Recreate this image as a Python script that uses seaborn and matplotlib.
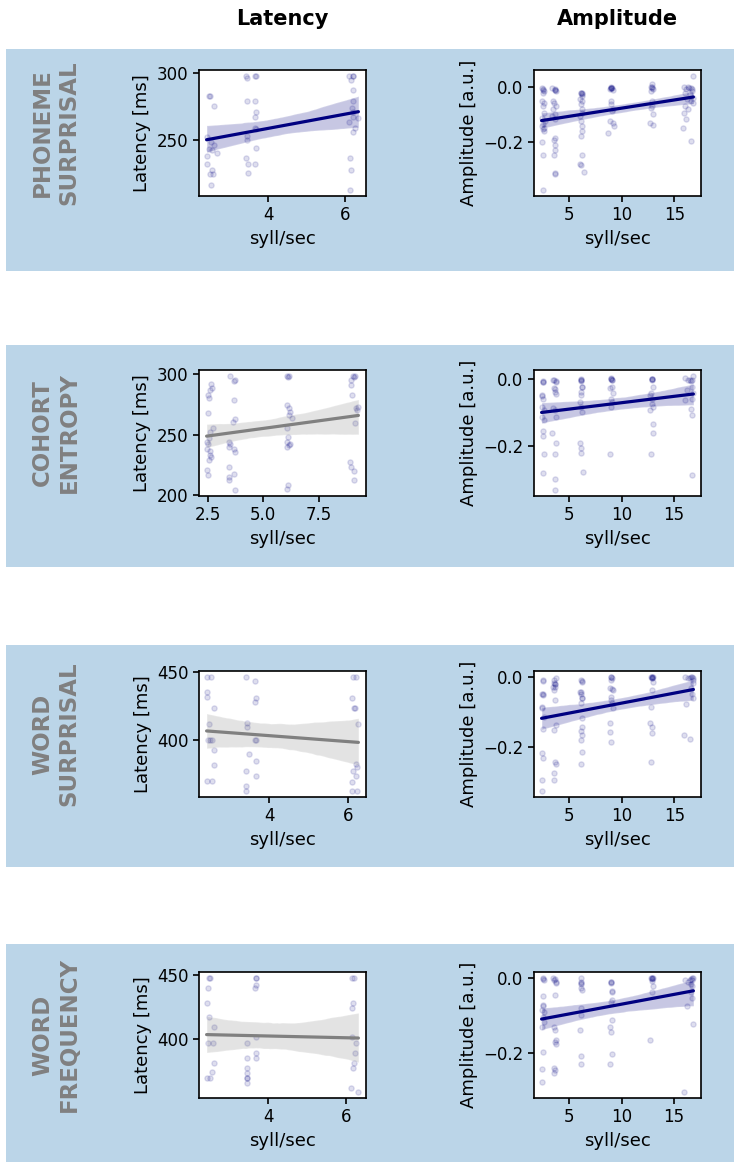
import matplotlib
matplotlib.use("Agg")
import matplotlib.pyplot as plt
from matplotlib.patches import Rectangle
from matplotlib.ticker import MaxNLocator
import seaborn as sns

# ---- data (x = syll/sec, y = latency / amplitude) ----
row_names = ["PHONEME\nSURPRISAL", "COHORT\nENTROPY", "WORD\nSURPRISAL", "WORD\nFREQUENCY"]
col_names = ["Latency", "Amplitude"]

# line colour per panel: navy = significant, gray = not
lat_line = ["navy", "gray", "gray", "gray"]
amp_line = ["navy", "navy", "navy", "navy"]

ph_lat_x = [2.45, 2.48, 2.58, 2.42, 2.52, 2.60, 2.45, 2.55, 2.68, 2.42, 2.40, 2.55, 2.50, 2.57, 2.52,
            3.42, 3.44, 3.65, 3.68, 3.45, 3.65, 3.68, 3.65, 3.66, 3.68, 3.45, 3.45, 3.68, 3.42, 3.48, 3.65, 3.48,
            6.10, 6.20, 6.22, 6.15, 6.20, 6.20, 6.18, 6.22, 6.20, 6.35, 6.10, 6.25, 6.22, 6.12, 6.15, 6.12]
ph_lat_y = [283, 283, 275, 252, 248, 246, 243, 242, 240, 238, 232, 227, 224, 224, 216,
            298, 296, 298, 298, 279, 279, 271, 267, 259, 258, 253, 250, 244, 236, 232, 232, 225,
            298, 298, 298, 295, 287, 279, 274, 271, 267, 266, 263, 259, 256, 236, 227, 212]

ph_amp_x = [2.4, 2.5, 2.35, 2.6, 2.45, 2.55, 2.4, 2.65, 2.5, 2.35, 2.6, 2.45, 2.55, 2.4, 2.5, 2.45, 2.45, 2.5, 2.55,
            3.35, 3.6, 3.4, 3.55, 3.7, 3.45, 3.6, 3.35, 3.65, 3.6, 3.55, 3.65, 3.6, 3.5, 3.6, 3.65, 3.6, 3.65, 3.7,
            6.1, 6.15, 6.05, 6.2, 6.1, 6.15, 6.2, 6.05, 6.1, 6.15, 6.2, 6.1, 6.15, 6.05, 6.1, 6.35, 6.1, 6.15, 6.2,
            8.95, 9.0, 9.05, 8.9, 9.1, 9.0, 8.95, 9.15, 9.05, 8.9, 9.1, 9.2, 8.7, 9.0, 8.95,
            12.9, 12.8, 12.95, 12.75, 12.85, 12.9, 12.8, 12.95, 12.7, 13.0, 12.9, 12.85,
            16.75, 15.9, 16.3, 16.6, 16.1, 16.7, 16.0, 16.5, 16.8, 16.2, 16.6, 16.75, 16.0, 16.3, 15.9, 16.1, 15.8, 16.6, 16.4, 16.7]
ph_amp_y = [-0.002, -0.019, -0.049, -0.056, -0.068, -0.093, -0.111, -0.123, -0.133, -0.142, -0.148, -0.154, -0.160, -0.200, -0.247, -0.377, -0.004, -0.008, -0.012,
            -0.002, -0.010, -0.049, -0.056, -0.068, -0.080, -0.099, -0.105, -0.117, -0.185, -0.191, -0.210, -0.228, -0.247, -0.315, -0.318, -0.004, -0.008, -0.012,
            -0.019, -0.022, -0.043, -0.049, -0.062, -0.080, -0.093, -0.105, -0.123, -0.142, -0.160, -0.179, -0.247, -0.281, -0.284, -0.309, -0.020, -0.025, -0.030,
            0.0, -0.001, -0.002, -0.006, -0.010, -0.049, -0.062, -0.080, -0.086, -0.123, -0.130, -0.142, -0.167, -0.001, -0.003,
            0.012, 0.0, -0.006, -0.012, -0.049, -0.068, -0.074, -0.099, -0.130, -0.136, 0.0, -0.002,
            0.043, 0.0, 0.0, -0.002, -0.006, -0.012, -0.019, -0.025, -0.037, -0.043, -0.049, -0.056, -0.068, -0.080, -0.093, -0.117, -0.148, -0.198, -0.002, -0.004]

ce_lat_x = [2.65, 2.68, 2.62, 2.52, 2.58, 2.5, 2.75, 2.6, 2.55, 2.48, 2.52, 2.45, 2.6, 2.62, 2.65, 2.58, 2.45, 2.5,
            3.5, 3.72, 3.68, 3.7, 3.72, 3.65, 3.45, 3.5, 3.45, 3.7, 3.72, 3.45, 3.7, 3.45, 3.48, 3.72,
            6.1, 6.15, 6.12, 6.1, 6.15, 6.2, 6.18, 6.3, 6.1, 6.12, 6.08, 6.2, 6.15, 6.1, 6.12, 6.1,
            9.05, 9.15, 9.1, 8.95, 8.95, 9.0, 9.3, 9.2, 9.25, 9.15, 8.9, 8.95, 9.1, 9.12]
ce_lat_y = [291.7, 288.9, 287, 282.8, 280, 267.5, 255.6, 251.7, 246.7, 243.9, 241.7, 238.3, 236.1, 232.8, 231.4, 228.6, 220.3, 216.1,
            298.9, 295.3, 294.4, 278.6, 263.3, 260, 243.9, 242.5, 239.7, 238.3, 235.6, 223.1, 217.5, 214.7, 211.9, 203.6,
            298.9, 298.9, 298.1, 274.4, 271.7, 268.9, 266.1, 263.9, 255, 248.1, 243.9, 242.5, 241.1, 239.7, 207.8, 204.4,
            298.9, 298.9, 298.1, 295.3, 291.1, 282.8, 273.1, 271.7, 270.3, 259.2, 227.2, 223.1, 219.4, 211.9]

ce_amp_x = [2.45, 2.4, 2.5, 2.35, 2.55, 2.4, 2.6, 2.45, 2.5, 2.55, 2.5, 2.45, 2.5, 2.4,
            3.45, 3.75, 3.55, 3.65, 3.7, 3.4, 3.6, 3.75, 3.35, 3.7, 3.65, 3.6, 3.6, 3.5, 3.7, 3.65,
            6.1, 6.15, 6.2, 6.1, 6.15, 6.05, 6.1, 6.2, 6.05, 6.1, 6.15, 6.35, 6.1, 6.15, 6.2,
            8.95, 9.0, 9.1, 9.05, 8.9, 9.15, 9.0, 9.1, 8.95, 8.9, 9.0, 9.05,
            12.85, 12.9, 12.95, 12.8, 12.75, 12.9, 12.85, 12.95, 12.7, 13.0, 12.95, 12.8, 12.9, 12.85,
            16.85, 16.0, 16.3, 16.6, 16.75, 16.2, 16.8, 16.7, 16.05, 16.6, 16.75, 16.75, 16.5, 16.7]
ce_amp_y = [-0.008, -0.048, -0.059, -0.084, -0.094, -0.114, -0.124, -0.155, -0.170, -0.225, -0.281, -0.005, -0.010, -0.050,
            -0.003, -0.006, -0.028, -0.038, -0.046, -0.087, -0.094, -0.114, -0.162, -0.190, -0.225, -0.299, -0.333, -0.004, -0.008, -0.030,
            0.0, -0.003, -0.023, -0.038, -0.048, -0.069, -0.084, -0.099, -0.190, -0.205, -0.220, -0.279, -0.002, -0.005, -0.025,
            0.002, 0.0, -0.003, -0.023, -0.028, -0.043, -0.059, -0.069, -0.084, -0.225, 0.0, -0.002,
            0.0, 0.0, -0.023, -0.043, -0.048, -0.059, -0.074, -0.084, -0.094, -0.134, -0.162, -0.225, 0.0, -0.002,
            0.010, 0.002, -0.003, -0.006, -0.023, -0.033, -0.043, -0.059, -0.064, -0.089, -0.107, -0.286, -0.002, -0.004]

ws_lat_x = [2.42, 2.52, 2.42, 2.42, 2.6, 2.48, 2.45, 2.5, 2.55, 2.6, 2.6, 2.42, 2.56,
            3.42, 3.65, 3.66, 3.64, 3.45, 3.45, 3.65, 3.67, 3.48, 3.66, 3.42, 3.67, 3.42, 3.42,
            6.12, 6.2, 6.08, 6.15, 6.17, 6.25, 6.18, 6.22, 6.12, 6.2, 6.1, 6.1, 6.22]
ws_lat_y = [446.8, 446.8, 435.5, 431.8, 423.5, 411.8, 400, 400, 400, 392.5, 381, 369.3, 369.3,
            446.8, 443.5, 431, 428, 412.5, 409.3, 400, 400, 389.3, 384.3, 376.8, 373.5, 365.5, 361.8,
            446.8, 446.8, 431, 423.5, 423.5, 411.8, 381.8, 380, 376.8, 373, 368.5, 361.8, 361.8]

ws_amp_x = [2.5, 2.4, 2.45, 2.4, 2.55, 2.5, 2.4, 2.5, 2.35, 2.4, 2.45, 2.5, 2.4,
            3.7, 3.5, 3.6, 3.45, 3.55, 3.6, 3.7, 3.55, 3.65, 3.7, 3.55, 3.5, 3.6, 3.65, 3.5,
            6.1, 6.15, 6.05, 6.1, 6.2, 6.1, 6.15, 6.2, 6.1, 6.15, 6.1, 6.15, 6.1, 6.15, 6.1, 6.2,
            8.95, 9.05, 9.0, 8.9, 9.1, 9.0, 8.95, 9.05, 9.1, 8.9, 8.85, 8.95, 9.0, 9.05,
            12.8, 12.95, 12.9, 12.85, 12.95, 12.9, 12.8, 12.7, 12.85, 12.9, 12.75, 12.85, 12.9,
            16.0, 16.7, 16.5, 16.3, 16.8, 16.75, 16.6, 16.7, 16.75, 16.1, 15.9, 16.5, 16.6, 16.8]
ws_amp_y = [-0.010, -0.048, -0.052, -0.086, -0.114, -0.148, -0.219, -0.233, -0.295, -0.327, -0.012, -0.050, -0.088,
            -0.005, -0.019, -0.022, -0.029, -0.038, -0.067, -0.138, -0.152, -0.243, -0.248, -0.276, -0.295, -0.020, -0.030, -0.010,
            -0.010, -0.016, -0.043, -0.048, -0.062, -0.076, -0.119, -0.143, -0.155, -0.167, -0.181, -0.216, -0.250, -0.012, -0.045, -0.060,
            0.0, -0.003, -0.010, -0.033, -0.038, -0.057, -0.067, -0.076, -0.089, -0.133, -0.157, -0.186, 0.0, -0.035,
            0.0, 0.0, -0.003, -0.005, -0.014, -0.038, -0.086, -0.133, -0.143, -0.162, -0.243, 0.0, -0.002,
            0.0, 0.0, -0.003, -0.005, -0.010, -0.019, -0.033, -0.048, -0.062, -0.079, -0.165, -0.179, -0.002, -0.004]

wf_lat_x = [2.48, 2.52, 2.45, 2.42, 2.48, 2.6, 2.45, 2.58, 2.6, 2.55, 2.42, 2.5,
            3.68, 3.7, 3.7, 3.67, 3.7, 3.45, 3.45, 3.7, 3.68, 3.47, 3.46, 3.45, 3.47, 3.45,
            6.15, 6.2, 6.18, 6.15, 6.15, 6.25, 6.22, 6.2, 6.17, 6.12, 6.32]
wf_lat_y = [447.6, 447.6, 439.7, 427.9, 416.6, 408.7, 396.8, 396.8, 381, 373.7, 369.2, 369.2,
            447.6, 447.6, 441.6, 439.7, 400.8, 396.8, 385, 385, 389, 377.1, 373.2, 369.2, 369.2, 365.3,
            447.6, 447.6, 427.9, 424, 400.8, 396.8, 389, 381, 377.1, 361.3, 357.9]

wf_amp_x = [2.5, 2.6, 2.45, 2.5, 2.4, 2.45, 2.55, 2.4, 2.45, 2.4, 2.35, 2.5, 2.45, 2.55,
            3.45, 3.7, 3.65, 3.55, 3.6, 3.7, 3.65, 3.75, 3.5, 3.6, 3.55, 3.6, 3.7, 3.5,
            6.1, 6.15, 6.1, 6.15, 6.1, 6.05, 6.15, 6.1, 6.1, 6.15, 6.2,
            9.0, 8.95, 9.05, 9.1, 9.0, 9.05, 8.9, 8.95, 9.1, 8.85, 9.0, 9.05,
            12.85, 12.95, 12.8, 12.9, 12.95, 12.85, 12.7, 12.9, 12.85,
            16.7, 16.8, 16.0, 16.5, 16.3, 16.6, 16.75, 16.6, 16.75, 16.2, 16.85, 15.95, 16.6, 16.7]
wf_amp_y = [0.0, -0.003, -0.048, -0.071, -0.085, -0.103, -0.116, -0.130, -0.198, -0.242, -0.278, -0.002, -0.075, -0.090,
            0.0, -0.009, -0.044, -0.130, -0.139, -0.166, -0.171, -0.175, -0.239, -0.244, -0.253, -0.002, -0.012, -0.005,
            0.002, -0.012, -0.025, -0.080, -0.098, -0.139, -0.207, -0.230, -0.010, -0.015, -0.030,
            -0.009, -0.012, -0.033, -0.057, -0.062, -0.112, -0.130, -0.144, -0.203, -0.230, -0.010, -0.035,
            0.002, 0.002, 0.0, -0.007, -0.021, -0.035, -0.166, 0.0, -0.002,
            0.002, 0.0, -0.003, -0.005, -0.009, -0.016, -0.021, -0.035, -0.053, -0.075, -0.121, -0.305, -0.002, -0.004]

lat_data = [(ph_lat_x, ph_lat_y), (ce_lat_x, ce_lat_y), (ws_lat_x, ws_lat_y), (wf_lat_x, wf_lat_y)]
amp_data = [(ph_amp_x, ph_amp_y), (ce_amp_x, ce_amp_y), (ws_amp_x, ws_amp_y), (wf_amp_x, wf_amp_y)]

# ---- style ----
sns.set_style("ticks", {"axes.edgecolor": "black", "xtick.color": "black", "ytick.color": "black",
                        "text.color": "black", "axes.labelcolor": "black"})
plt.rcParams["font.family"] = ["DejaVu Sans"]
plt.rcParams["xtick.labelsize"] = 12
plt.rcParams["ytick.labelsize"] = 12
plt.rcParams["axes.labelsize"] = 13
plt.rcParams["axes.linewidth"] = 1.2

W, H = 734, 1162
fig = plt.figure(figsize=(W / 100, H / 100), dpi=100)

band_tops = [49, 345, 645, 944]   # px from top
band_h = 222
ax_tops = [70, 370, 671, 972]
ax_h = 126
ax_w = 167
ax_lefts = [199, 534]

band_color = (31 / 255, 119 / 255, 180 / 255, 0.3)

for r in range(4):
    # blue band behind the row
    y0 = 1 - (band_tops[r] + band_h) / H
    fig.patches.append(Rectangle((6 / W, y0), 1 - 6 / W, band_h / H, transform=fig.transFigure,
                                 facecolor=band_color, edgecolor="none", zorder=-5))

    bottom = 1 - (ax_tops[r] + ax_h) / H
    for c, (data, lcol, ylab) in enumerate([(lat_data[r], lat_line[r], "Latency [ms]"),
                                            (amp_data[r], amp_line[r], "Amplitude [a.u.]")]):
        ax = fig.add_axes([ax_lefts[c] / W, bottom, ax_w / W, ax_h / H])
        ax.set_facecolor("white")
        xs, ys = data
        sns.regplot(x=xs, y=ys, ax=ax, seed=0,
                    scatter_kws={"color": "navy", "alpha": 0.13, "s": 14},
                    line_kws={"color": lcol, "lw": 2.3})
        # slightly stronger CI band than seaborn's default
        ax.collections[-1].set_alpha(0.22)
        ax.xaxis.set_major_locator(MaxNLocator(nbins=3, steps=[1, 2, 2.5, 5, 10]))
        ax.yaxis.set_major_locator(MaxNLocator(nbins=3, steps=[1, 2, 2.5, 5, 10]))
        ax.set_xlabel("syll/sec")
        ax.set_ylabel(ylab)
        ax.tick_params(length=4, width=1.2)

    fig.text(56 / W, 1 - (ax_tops[r] + ax_h / 2) / H, row_names[r], rotation=90,
             ha="center", va="center", multialignment="center",
             fontsize=16.5, fontweight="bold", color="gray")

for c, name in enumerate(col_names):
    fig.text((ax_lefts[c] + ax_w / 2) / W, 1 - 19 / H, name, ha="center", va="center",
             fontsize=15, fontweight="bold")

fig.savefig("out.png", dpi=100)
